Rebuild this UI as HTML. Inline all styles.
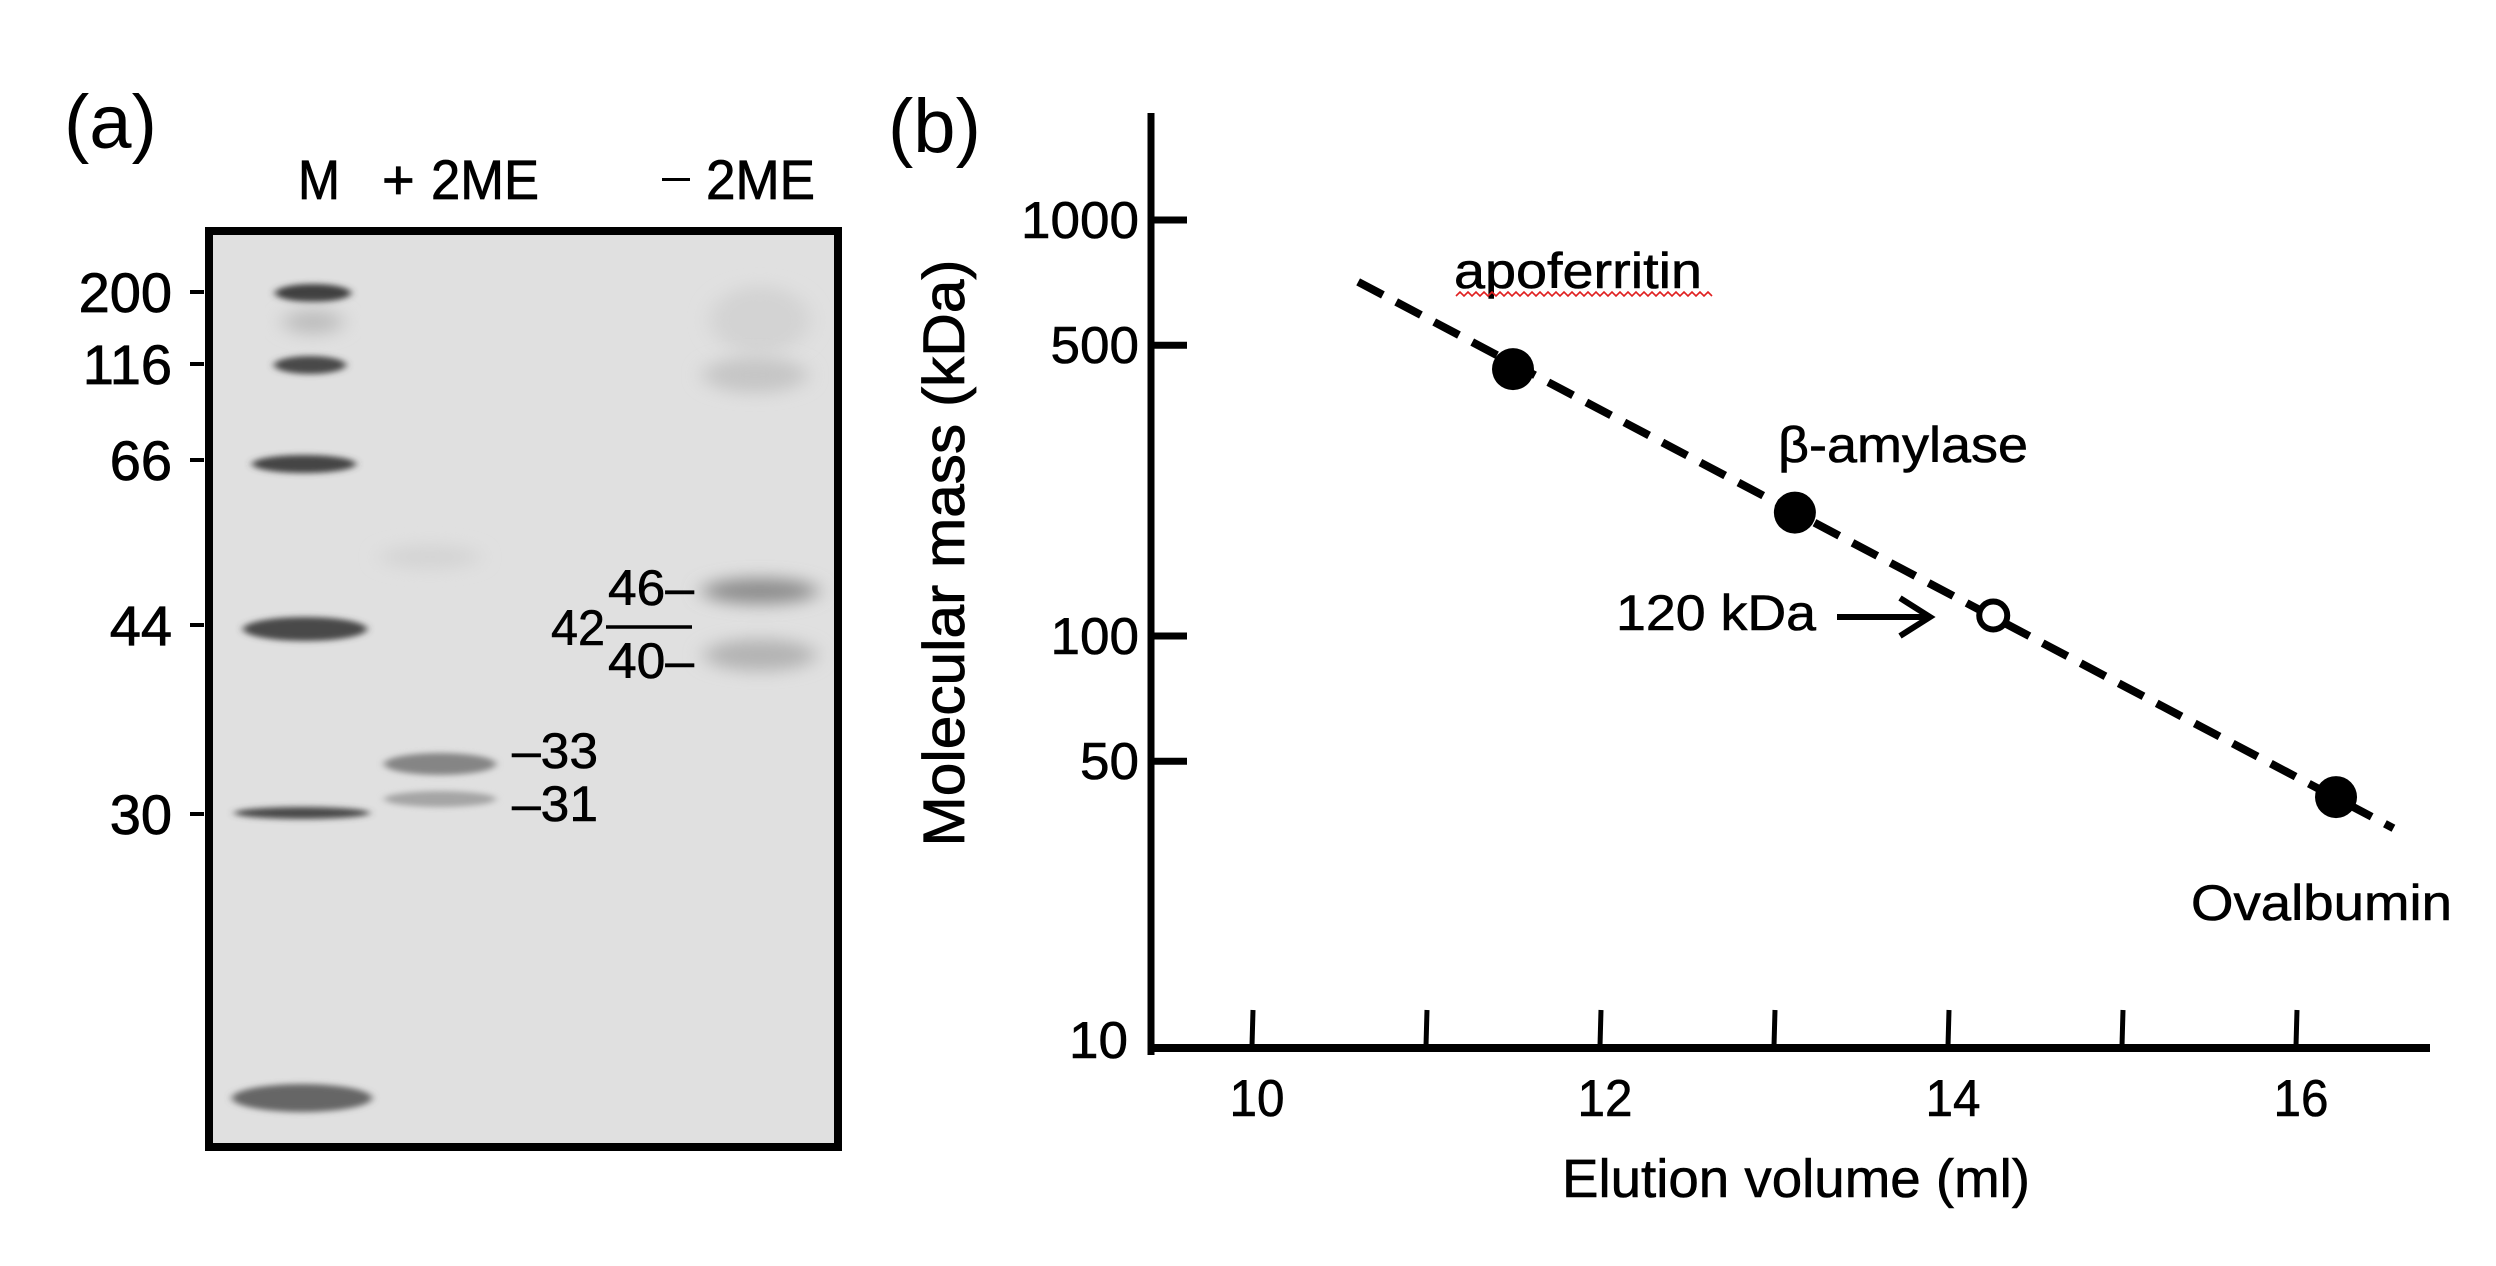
<!DOCTYPE html>
<html><head><meta charset="utf-8"><style>
html,body{margin:0;padding:0;background:#fff;}
svg{display:block;font-family:"Liberation Sans",Arial,sans-serif;}
</style></head><body>
<svg width="2496" height="1266" viewBox="0 0 2496 1266" xmlns="http://www.w3.org/2000/svg">
<defs>
<filter id="b1" x="-30%" y="-200%" width="160%" height="500%"><feGaussianBlur stdDeviation="4 3"/></filter>
<filter id="b2" x="-30%" y="-200%" width="160%" height="500%"><feGaussianBlur stdDeviation="10 8"/></filter>
</defs>
<g>
<text x="64" y="148" font-size="76">(a)</text>
<g stroke="#000" stroke-width="0.8">
<text x="298" y="199" font-size="56" textLength="42" lengthAdjust="spacingAndGlyphs">M</text>
<text x="382" y="199" font-size="56">+</text>
<text x="431" y="199" font-size="56" textLength="108" lengthAdjust="spacingAndGlyphs">2ME</text>
<text x="706" y="199" font-size="56" textLength="109" lengthAdjust="spacingAndGlyphs">2ME</text>
</g>
<rect x="662" y="178" width="28" height="3" fill="#000"/>
<rect x="209" y="231" width="629" height="916" fill="#e0e0e0"/>
<g>
<ellipse cx="313" cy="293" rx="38" ry="9" fill="#404040" filter="url(#b1)"/>
<ellipse cx="313" cy="322" rx="30" ry="12" fill="#bdbdbd" filter="url(#b2)"/>
<ellipse cx="310" cy="365" rx="36" ry="9" fill="#484848" filter="url(#b1)"/>
<ellipse cx="304" cy="464" rx="52" ry="9" fill="#444" filter="url(#b1)"/>
<ellipse cx="305" cy="629" rx="62" ry="12" fill="#484848" filter="url(#b1)"/>
<ellipse cx="302" cy="813" rx="68" ry="6" fill="#484848" filter="url(#b1)"/>
<ellipse cx="302" cy="1098" rx="70" ry="14" fill="#666" filter="url(#b1)"/>
<ellipse cx="430" cy="557" rx="50" ry="12" fill="#d4d4d4" filter="url(#b2)"/>
<ellipse cx="440" cy="764" rx="56" ry="11" fill="#858585" filter="url(#b1)"/>
<ellipse cx="440" cy="799" rx="56" ry="8" fill="#a5a5a5" filter="url(#b1)"/>
<ellipse cx="760" cy="320" rx="50" ry="34" fill="#d3d3d3" filter="url(#b2)"/>
<ellipse cx="755" cy="375" rx="52" ry="18" fill="#c6c6c6" filter="url(#b2)"/>
<ellipse cx="760" cy="591" rx="58" ry="13" fill="#8e8e8e" filter="url(#b2)"/>
<ellipse cx="760" cy="655" rx="56" ry="16" fill="#b4b4b4" filter="url(#b2)"/>
</g>
<rect x="209" y="231" width="629" height="916" fill="none" stroke="#000" stroke-width="8"/>
<g font-size="56" text-anchor="end" stroke="#000" stroke-width="0.8">
<text x="172" y="312">200</text><text x="172" y="384">116</text><text x="172" y="480">66</text><text x="172" y="645">44</text><text x="172" y="834">30</text>
</g>
<g stroke="#000" stroke-width="4">
<line x1="190" y1="292" x2="204" y2="292"/><line x1="190" y1="364" x2="204" y2="364"/><line x1="190" y1="460" x2="204" y2="460"/><line x1="190" y1="625" x2="204" y2="625"/><line x1="190" y1="814" x2="204" y2="814"/>
</g>
<g font-size="50" stroke="#000" stroke-width="0.6">
<text x="608" y="605" textLength="86" lengthAdjust="spacingAndGlyphs">46–</text>
<text x="551" y="645" textLength="54" lengthAdjust="spacingAndGlyphs">42</text><line x1="606" y1="627" x2="692" y2="627" stroke="#000" stroke-width="3.5"/>
<text x="608" y="678" textLength="86" lengthAdjust="spacingAndGlyphs">40–</text>
<text x="512" y="768" textLength="86" lengthAdjust="spacingAndGlyphs">–33</text>
<text x="512" y="821" textLength="86" lengthAdjust="spacingAndGlyphs">–31</text>
</g>
</g>
<text x="888" y="152" font-size="76">(b)</text>
<g id="chart"></g>
<script>
const xTicks=[10,11,12,13,14,15,16];
const xTickLabels=[10,12,14,16];
const yTicks=[10,50,100,500,1000];
const pointNames=["apoferritin","β-amylase","unknown-120kDa","Ovalbumin"];
const pointX=[11.5,13.12,14.26,16.23];
const pointY=[438,198,112,41];
const pointOpen=[false,false,true,false];
const fitX=[10.61,16.56];
const fitY=[710,34.5];
const NS="http://www.w3.org/2000/svg";
function xs(v){return 1252+174*(v-10);}
function ys(v){return 1052-416*(Math.log10(v)-1);}
const g=document.getElementById('chart');
function el(tag,attrs,txt){const e=document.createElementNS(NS,tag);for(const k in attrs)e.setAttribute(k,attrs[k]);if(txt!==undefined)e.textContent=txt;g.appendChild(e);return e;}
let e;
e=el('line',{x1:1151,y1:113,x2:1151,y2:1055,stroke:'#000','stroke-width':7});


e=el('line',{x1:1148,y1:1048,x2:2430,y2:1048,stroke:'#000','stroke-width':8});


yTicks.forEach(v=>{
 const y=ys(v);
 if(v!==10){e=el('line',{x1:1151,y1:y,x2:1187,y2:y,stroke:'#000','stroke-width':7});
 
 }
 e=el('text',{x:v===10?1128:1139,y:y+(v===10?6:18),'font-size':52,'text-anchor':'end',textLength:String(v).length*29.5,lengthAdjust:'spacingAndGlyphs',stroke:'#000','stroke-width':0.6},String(v));
 
 
});
xTicks.forEach(v=>{
 const x=xs(v);
 e=el('line',{x1:x,y1:1046,x2:x+1,y2:1010,stroke:'#000','stroke-width':5});
 
 
});
xTickLabels.forEach(v=>{
 e=el('text',{x:xs(v)+5,y:1116,'font-size':52,'text-anchor':'middle',textLength:55,lengthAdjust:'spacingAndGlyphs',stroke:'#000','stroke-width':0.6},String(v));
 
 
});
e=el('text',{x:1796,y:1197,'font-size':54,'text-anchor':'middle',textLength:468,lengthAdjust:'spacingAndGlyphs',stroke:'#000','stroke-width':0.6},'Elution volume (ml)');


e=el('text',{x:0,y:0,'font-size':58,'text-anchor':'middle',textLength:587,lengthAdjust:'spacingAndGlyphs',stroke:'#000','stroke-width':0.8,transform:'translate(964,553) rotate(-90)'},'Molecular mass (kDa)');


e=el('line',{x1:xs(fitX[0]),y1:ys(fitY[0]),x2:xs(fitX[1]),y2:ys(fitY[1]),stroke:'#000','stroke-width':8,'stroke-dasharray':'28 15'});


pointX.forEach((v,i)=>{
 const open=pointOpen[i];
 e=el('circle',{cx:xs(v),cy:ys(pointY[i]),r:open?14:21,fill:open?'#fff':'#000',stroke:'#000','stroke-width':open?6:0});
 
 
});
e=el('text',{x:1454,y:288,'font-size':50,textLength:248,lengthAdjust:'spacingAndGlyphs',stroke:'#000','stroke-width':0.6},'apoferritin');


let d='M1456 296';for(let x=1456;x<1705;x+=8){d+=' L'+(x+4)+' 292 L'+(x+8)+' 296';}
e=el('path',{d:d,fill:'none',stroke:'#e02020','stroke-width':1.6});


e=el('text',{x:1778,y:462,'font-size':50,textLength:250,lengthAdjust:'spacingAndGlyphs',stroke:'#000','stroke-width':0.6},'β-amylase');


e=el('text',{x:1616,y:630,'font-size':50,textLength:200,lengthAdjust:'spacingAndGlyphs',stroke:'#000','stroke-width':0.6},'120 kDa');


e=el('path',{d:'M1837 617 L1928 617 M1900 598 L1930 617 L1900 636',fill:'none',stroke:'#000','stroke-width':6});


e=el('text',{x:2191,y:920,'font-size':50,textLength:261,lengthAdjust:'spacingAndGlyphs',stroke:'#000','stroke-width':0.6},'Ovalbumin');


</script>
</svg>
</body></html>
